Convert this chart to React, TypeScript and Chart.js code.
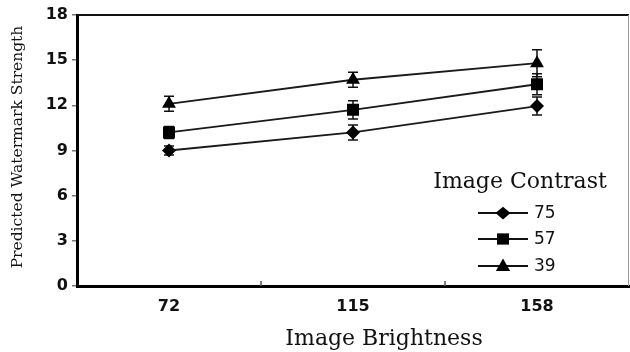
import React, { useEffect, useRef } from "react";
import { Chart, registerables } from "chart.js";

Chart.register(...registerables);

const categories = ["72", "115", "158"];
const seriesLabels = ["75", "57", "39"];
const values75 = [9.0, 10.2, 11.95];
const values57 = [10.2, 11.7, 13.4];
const values39 = [12.1, 13.7, 14.8];
const err75 = [0.3, 0.5, 0.6];
const err57 = [0.4, 0.6, 0.7];
const err39 = [0.5, 0.5, 0.9];
const yTicks = [0, 3, 6, 9, 12, 15, 18];
const xTitle = "Image Brightness";
const yTitle = "Predicted Watermark Strength";
const legendTitle = "Image Contrast";

const serifFont = "'DejaVu Serif', serif";
const sansFont = "'DejaVu Sans', sans-serif";

function drawMarker(ctx: CanvasRenderingContext2D, style: string, x: number, y: number, r: number) {
  ctx.beginPath();
  if (style === "rectRot") {
    ctx.moveTo(x, y - r * 0.85);
    ctx.lineTo(x + r, y);
    ctx.lineTo(x, y + r * 0.85);
    ctx.lineTo(x - r, y);
    ctx.closePath();
  } else if (style === "rect") {
    ctx.rect(x - r * 0.8, y - r * 0.75, r * 1.6, r * 1.5);
  } else {
    ctx.moveTo(x, y - r);
    ctx.lineTo(x + r * 0.95, y + r * 0.65);
    ctx.lineTo(x - r * 0.95, y + r * 0.65);
    ctx.closePath();
  }
  ctx.fillStyle = "#000";
  ctx.fill();
}

const errorBarPlugin = {
  id: "errorBars",
  beforeDatasetsDraw(chart: any) {
    const ctx = chart.ctx;
    const yScale = chart.scales.y;
    const errs = [err75, err57, err39];
    chart.data.datasets.forEach((ds: any, di: number) => {
      const meta = chart.getDatasetMeta(di);
      meta.data.forEach((pt: any, i: number) => {
        const v = ds.data[i];
        const e = errs[di][i];
        const yt = yScale.getPixelForValue(v + e);
        const yb = yScale.getPixelForValue(v - e);
        ctx.save();
        ctx.strokeStyle = "#111";
        ctx.lineWidth = 1.5;
        ctx.beginPath();
        ctx.moveTo(pt.x, yt);
        ctx.lineTo(pt.x, yb);
        ctx.moveTo(pt.x - 5, yt);
        ctx.lineTo(pt.x + 5, yt);
        ctx.moveTo(pt.x - 5, yb);
        ctx.lineTo(pt.x + 5, yb);
        ctx.stroke();
        ctx.restore();
      });
    });
  },
};

const decorPlugin = {
  id: "decor",
  afterDraw(chart: any) {
    const ctx = chart.ctx;
    const a = chart.chartArea;
    ctx.save();
    // top frame
    ctx.strokeStyle = "#111";
    ctx.lineWidth = 2;
    ctx.beginPath();
    ctx.moveTo(a.left, a.top);
    ctx.lineTo(a.right, a.top);
    ctx.stroke();
    ctx.strokeStyle = "#999";
    ctx.lineWidth = 1;
    ctx.beginPath();
    ctx.moveTo(a.right - 0.5, a.top);
    ctx.lineTo(a.right - 0.5, a.bottom);
    ctx.stroke();

    // category boundary ticks (inward)
    const xs = chart.scales.x;
    ctx.strokeStyle = "#555";
    ctx.lineWidth = 1.5;
    for (let i = 1; i < categories.length; i++) {
      const bx = (xs.getPixelForValue(i - 1) + xs.getPixelForValue(i)) / 2;
      ctx.beginPath();
      ctx.moveTo(bx, a.bottom);
      ctx.lineTo(bx, a.bottom - 5);
      ctx.stroke();
    }

    // axis titles
    ctx.fillStyle = "#111";
    ctx.font = "22px " + serifFont;
    ctx.textAlign = "center";
    ctx.textBaseline = "middle";
    ctx.fillText(xTitle, 384, 339);

    ctx.save();
    ctx.translate(18, 147);
    ctx.rotate(-Math.PI / 2);
    ctx.font = "15.5px " + serifFont;
    ctx.fillText(yTitle, 0, 0);
    ctx.restore();

    // legend
    ctx.font = "22px " + serifFont;
    ctx.fillText(legendTitle, 520, 182);
    const ys = [213, 239, 266];
    chart.data.datasets.forEach((ds: any, di: number) => {
      const y = ys[di];
      ctx.strokeStyle = "#111";
      ctx.lineWidth = 1.8;
      ctx.beginPath();
      ctx.moveTo(478, y);
      ctx.lineTo(528, y);
      ctx.stroke();
      drawMarker(ctx, ds.pointStyle, 503, y, 7.5);
      ctx.fillStyle = "#111";
      ctx.font = "17px " + sansFont;
      ctx.textAlign = "left";
      ctx.fillText(ds.label, 534, y + 1);
    });
    ctx.restore();
  },
};

export default function App() {
  const ref = useRef<HTMLCanvasElement>(null);
  useEffect(() => {
    if (!ref.current) return;
    const mk = (label: string, data: number[], style: string, r: number) => ({
      label,
      data,
      borderColor: "#1a1a1a",
      borderWidth: 1.8,
      backgroundColor: "#000",
      pointBackgroundColor: "#000",
      pointBorderColor: "#000",
      pointBorderWidth: 0,
      pointStyle: style,
      pointRadius: r,
      tension: 0,
    });
    const chart = new Chart(ref.current, {
      type: "line",
      data: {
        labels: categories,
        datasets: [
          mk(seriesLabels[0], values75, "rectRot", 7),
          mk(seriesLabels[1], values57, "rect", 8.5),
          mk(seriesLabels[2], values39, "triangle", 8),
        ],
      },
      options: {
        animation: false,
        responsive: false,
        devicePixelRatio: 1,
        layout: { autoPadding: false, padding: { top: 15, right: 1, left: 0, bottom: 0 } },
        plugins: { legend: { display: false }, tooltip: { enabled: false } },
        scales: {
          x: {
            offset: true,
            grid: { display: false, offset: true },
            border: { display: true, color: "#000", width: 3 },
            ticks: {
              color: "#111",
              font: { family: sansFont, size: 16, weight: "bold" },
              padding: 3,
            },
            afterFit(scale: any) {
              scale.height = 66;
              scale.paddingLeft = 0;
              scale.paddingRight = 0;
            },
          },
          y: {
            min: 0,
            max: 18,
            afterBuildTicks(scale: any) {
              scale.ticks = yTicks.map((v) => ({ value: v }));
            },
            grid: {
              display: true,
              drawOnChartArea: false,
              tickLength: 5,
              color: "#777",
              lineWidth: 1.5,
            },
            border: { display: true, color: "#000", width: 3 },
            ticks: {
              color: "#111",
              font: { family: sansFont, size: 16, weight: "bold" },
              padding: 4,
            },
            afterFit(scale: any) {
              scale.width = 77;
            },
          },
        },
      },
      plugins: [errorBarPlugin, decorPlugin],
    } as any);
    return () => chart.destroy();
  }, []);
  return (
    <div style={{ position: "fixed", left: 0, top: 0, width: 630, height: 352, background: "#fff" }}>
      <canvas ref={ref} width={630} height={352} style={{ width: 630, height: 352, display: "block" }} />
    </div>
  );
}
